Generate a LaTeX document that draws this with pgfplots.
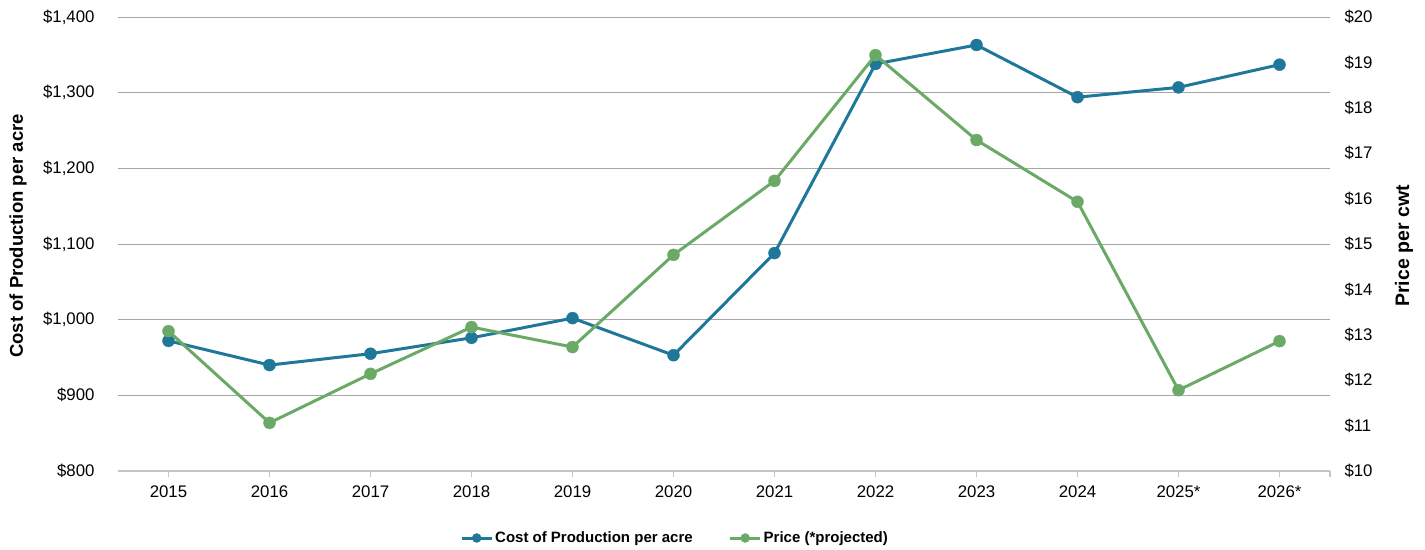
\documentclass[border=0pt]{standalone}
\usepackage{fontspec}
\setmainfont{Liberation Sans}
\usepackage{pgfplots}
\pgfplotsset{compat=1.18}
\definecolor{costblue}{HTML}{1F7899}
\definecolor{pricegreen}{HTML}{6BAA66}
\definecolor{gridgray}{HTML}{A6A6A6}
\definecolor{axisgray}{HTML}{C4C4C4}

\pgfplotsset{
  chartbase/.style={
    at={(118bp,79bp)}, anchor=south west,
    width=1212bp, height=454bp, scale only axis,
    xmin=-0.5, xmax=11.5,
    /pgf/number format/assume math mode=true,
    tick label style={font=\fontsize{16.8bp}{19bp}\selectfont},
    ytick style={draw=none},
  },
  serie/.style={color=#1, line width=3bp, mark=*, mark size=6bp,
    mark options={solid, fill=#1, draw=#1, line width=0.4bp}},
}

\begin{document}
\begin{tikzpicture}[x=1bp,y=1bp]
\path[use as bounding box] (0,0) rectangle (1425,550);

% left axis: cost per acre
\begin{axis}[chartbase,
  ymin=800, ymax=1400, ytick={800,900,...,1400},
  yticklabel={\$\pgfmathprintnumber[fixed,precision=0,1000 sep={,}]{\tick}},
  yticklabel style={xshift=-14bp},
  axis x line*=bottom, axis y line*=left,
  separate axis lines,
  x axis line style={draw=axisgray, line width=1.3bp, -},
  y axis line style={draw=none},
  xtick={0,...,11},
  xticklabels={2015,2016,2017,2018,2019,2020,2021,2022,2023,2024,2025*,2026*},
  extra x ticks={11.5}, extra x tick labels={},
  tick align=outside, major tick length=6bp,
  xtick style={draw=axisgray, line width=1.3bp},
  xticklabel style={yshift=-5bp},
  ymajorgrids, grid style={draw=gridgray, line width=0.9bp},
]
\addplot[serie=costblue] coordinates {
  (0,972)(1,940)(2,955)(3,976)(4,1002)(5,953)
  (6,1088)(7,1338)(8,1363)(9,1294)(10,1307)(11,1337)
};
\end{axis}

% right axis: price per cwt
\begin{axis}[chartbase,
  ymin=10, ymax=20, ytick={10,11,...,20},
  yticklabel={\$\pgfmathprintnumber[fixed,precision=0]{\tick}},
  yticklabel style={xshift=11bp},
  axis y line*=right, hide x axis,
  y axis line style={draw=none},
  legend style={at={(0.4596,-0.1476)}, anchor=center, draw=none,
    legend columns=2, font=\bfseries\fontsize{15bp}{17bp}\selectfont,
    /tikz/every even column/.append style={column sep=34bp}},
  legend image code/.code={
    \draw[mark repeat=2, mark phase=2, mark size=4.5bp]
      plot coordinates {(0bp,0bp)(15bp,0bp)(30bp,0bp)};},
]
\addlegendimage{serie=costblue}
\addlegendentry{Cost of Production per acre}
\addplot[serie=pricegreen] coordinates {
  (0,13.08)(1,11.06)(2,12.14)(3,13.17)(4,12.73)(5,14.76)
  (6,16.39)(7,19.16)(8,17.29)(9,15.93)(10,11.78)(11,12.86)
};
\addlegendentry{Price (*projected)}
\end{axis}

\node[rotate=90, font=\bfseries\fontsize{18.5bp}{21bp}\selectfont] at (18,314) {Cost of Production per acre};
\node[rotate=90, font=\bfseries\fontsize{19.5bp}{22bp}\selectfont] at (1404,304) {Price per cwt};
\end{tikzpicture}
\end{document}
